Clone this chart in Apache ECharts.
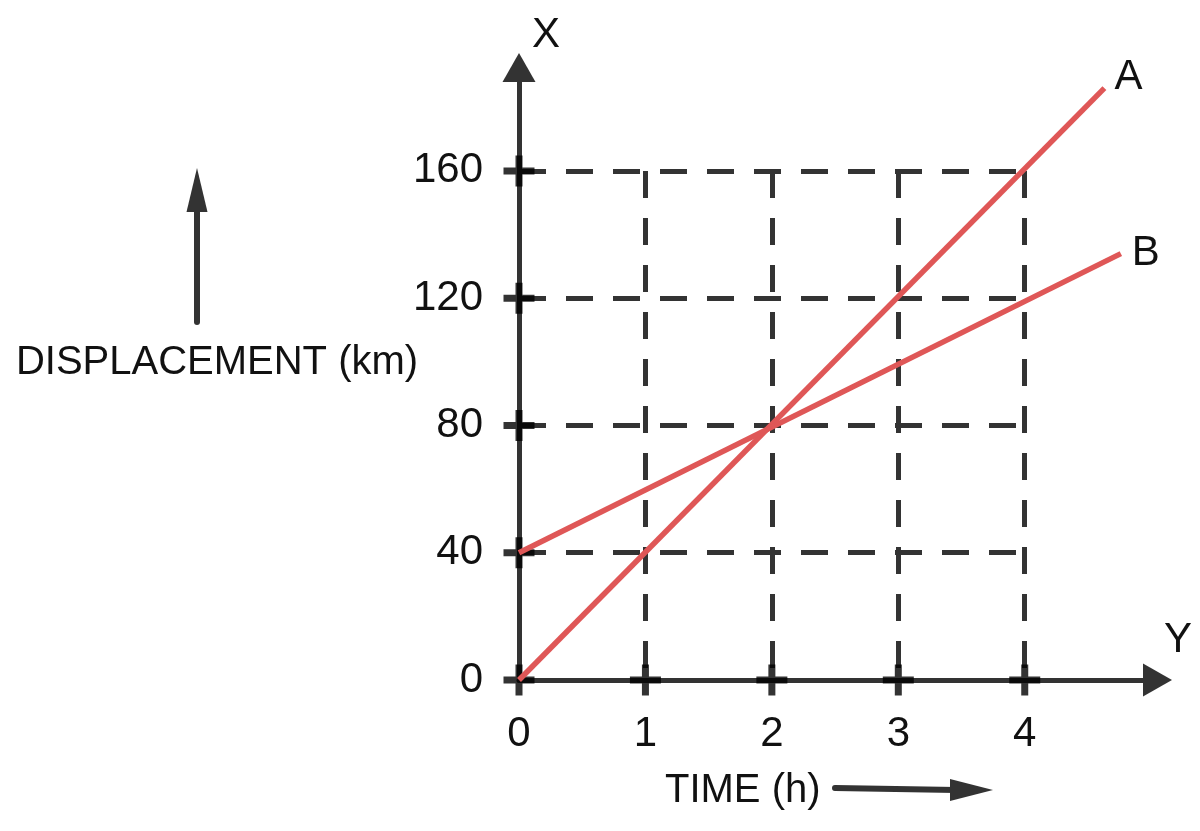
<!DOCTYPE html>
<html>
<head>
<meta charset="utf-8">
<script src="https://cdn.jsdelivr.net/npm/echarts@6/dist/echarts.min.js"></script>
<style>
html, body { margin: 0; padding: 0; background: #fff; }
#main { width: 1200px; height: 831px; }
</style>
</head>
<body>
<div id="main"></div>
<script>
// 刻度
var timeTicks = [0, 1, 2, 3, 4];
var distTicks = [0, 40, 80, 120, 160];

// 两条位移-时间线 (time h, displacement km)
var lineA = [[0, 0], [4.63, 186]];
var lineB = [[0, 40], [4.76, 134]];

var FONT = 'Liberation Sans, Arial, sans-serif';
var DARK = '#333';
var RED = '#df5757';

// 虚线网格
var gridLines = [];
timeTicks.forEach(function (t) {
	if (t === 0) return;
	gridLines.push([{ coord: [t, distTicks[distTicks.length - 1]] }, { coord: [t, 0] }]);
});
distTicks.forEach(function (d) {
	if (d === 0) return;
	gridLines.push([{ coord: [0, d] }, { coord: [timeTicks[timeTicks.length - 1], d] }]);
});

// 轴上的十字刻度
var crosses = [];
distTicks.forEach(function (d) { crosses.push([0, d]); });
timeTicks.forEach(function (t) { if (t !== 0) crosses.push([t, 0]); });

var myChart = echarts.init(document.getElementById('main'), null, { renderer: 'canvas' });

var option = {
	animation: false,
	backgroundColor: '#fff',
	grid: { left: 519, right: 42.5, top: 67.5, bottom: 151 },
	xAxis: {
		type: 'value',
		min: 0,
		max: 5.05,
		splitLine: { show: false },
		axisTick: { show: false },
		axisLine: {
			show: true,
			symbol: ['none', 'triangle'],
			symbolSize: [33, 29],
			lineStyle: { color: DARK, width: 5 }
		},
		axisLabel: {
			customValues: timeTicks,
			margin: 33,
			color: '#111',
			fontSize: 42,
			fontFamily: FONT
		}
	},
	yAxis: {
		type: 'value',
		min: 0,
		max: 192.5,
		splitLine: { show: false },
		axisTick: { show: false },
		axisLine: {
			show: true,
			symbol: ['none', 'triangle'],
			symbolSize: [33, 29],
			lineStyle: { color: DARK, width: 5 }
		},
		axisLabel: {
			customValues: distTicks,
			margin: 36,
			color: '#111',
			fontSize: 42,
			fontFamily: FONT
		}
	},
	series: [
		{
			name: 'ticks',
			type: 'scatter',
			z: 3,
			silent: true,
			symbol: 'path://M12,0H19V12H31V19H19V31H12V19H0V12H12Z',
			symbolSize: 31,
			itemStyle: { color: '#000' },
			data: crosses,
			markLine: {
				z: 1,
				silent: true,
				symbol: ['none', 'none'],
				label: { show: false },
				lineStyle: { color: DARK, width: 5, type: [27, 20] },
				data: gridLines
			}
		},
		{
			name: 'A',
			type: 'line',
			z: 4,
			silent: true,
			showSymbol: false,
			lineStyle: { color: RED, width: 5.5 },
			data: lineA,
			endLabel: {
				show: true,
				formatter: '{a}',
				distance: 10,
				offset: [0, -11],
				color: '#111',
				fontSize: 42,
				fontFamily: FONT
			}
		},
		{
			name: 'B',
			type: 'line',
			z: 4,
			silent: true,
			showSymbol: false,
			lineStyle: { color: RED, width: 5.5 },
			data: lineB,
			endLabel: {
				show: true,
				formatter: '{a}',
				distance: 11,
				color: '#111',
				fontSize: 42,
				fontFamily: FONT
			}
		}
	],
	graphic: [
		{ type: 'text', left: 532, top: 14, style: { text: 'X', fontSize: 42, fontFamily: FONT, fill: '#111' } },
		{ type: 'text', left: 1164, top: 619, style: { text: 'Y', fontSize: 42, fontFamily: FONT, fill: '#111' } },
		{
			type: 'text', x: 217, y: 363,
			style: { text: 'DISPLACEMENT (km)', fontSize: 40, fontFamily: FONT, fill: '#111', align: 'center', verticalAlign: 'middle' }
		},
		{
			type: 'text', x: 665, y: 791,
			style: { text: 'TIME (h)', fontSize: 40, fontFamily: FONT, fill: '#111', align: 'left', verticalAlign: 'middle' }
		},
		// 左边箭头
		{ type: 'line', shape: { x1: 197, y1: 322, x2: 197, y2: 206 }, style: { stroke: DARK, lineWidth: 6, lineCap: 'round' } },
		{ type: 'polygon', shape: { points: [[197, 168], [186.5, 212], [207.5, 212]] }, style: { fill: DARK } },
		// 下边箭头
		{ type: 'line', shape: { x1: 835, y1: 788, x2: 956, y2: 790 }, style: { stroke: DARK, lineWidth: 6, lineCap: 'round' } },
		{ type: 'polygon', shape: { points: [[993, 790], [950, 779], [950, 801]] }, style: { fill: DARK } }
	]
};

myChart.setOption(option);
</script>
</body>
</html>
